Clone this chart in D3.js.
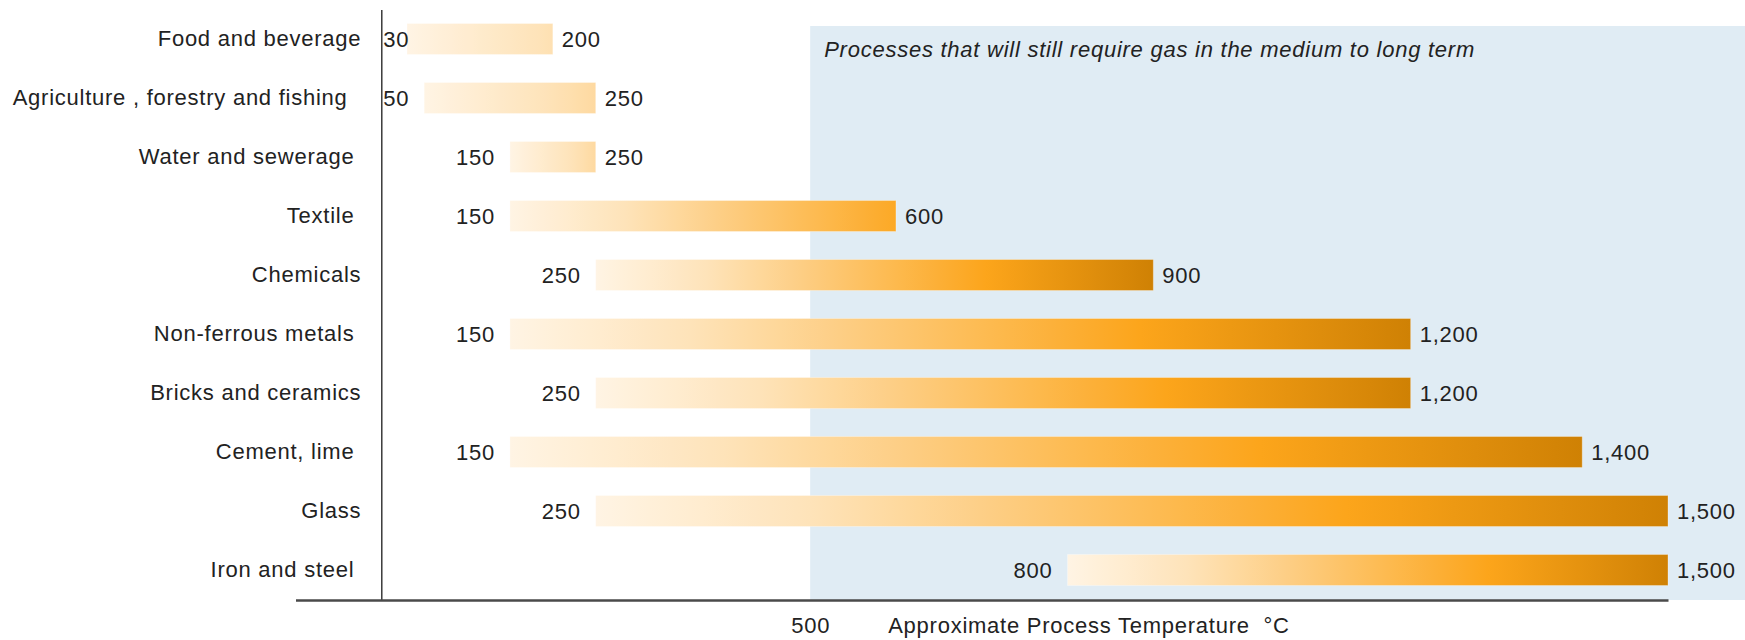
<!DOCTYPE html>
<html>
  <head>
    <meta charset="utf-8">
    <title>Approximate process temperature by industry</title>
    <script src="https://d3js.org/d3.v7.min.js"></script>
    <style>
      body { margin: 0; background: #fff; }
      svg { display: block; font-family: "Liberation Sans", Arial, sans-serif; }
      text { fill: #222; font-size: 22px; letter-spacing: 0.75px; white-space: pre; }
    </style>
  </head>
  <body>
    <svg id="chart" width="1745" height="640"></svg>
    <script>
      // chart data
      const categories = ["Food and beverage", "Agriculture , forestry and fishing  ", "Water and sewerage ", "Textile ",
        "Chemicals", "Non-ferrous metals ", "Bricks and ceramics", "Cement, lime ", "Glass", "Iron and steel "];
      const startTemps = [30, 50, 150, 150, 250, 150, 250, 150, 250, 800];
      const endTemps = [200, 250, 250, 600, 900, 1200, 1200, 1400, 1500, 1500];
      const gasThreshold = 500;
      const tickValues = [500];
      const gasNote = "Processes that will still require gas in the medium to long term";
      const axisTitle = "Approximate Process Temperature  \u00b0C";

      const width = 1745;
      const axisY = 600;
      const fmt = d3.format(",");

      const rows = categories.map((c, i) => ({ name: c, start: startTemps[i], end: endTemps[i] }));

      const svg = d3.select("#chart");

      // scales
      const x = d3.scaleLinear()
        .domain([-100, 1500])
        .range([295.5, 1668]);
      const y = d3.scaleBand()
        .domain(categories)
        .range([9.5, 599.5])
        .paddingInner(0.475)
        .paddingOuter(0.2375);

      // colour ramp: pale cream -> orange -> burnt orange
      const ramp = d3.scaleLinear()
        .domain([0, 0.2, 0.7, 1])
        .range(["#fff4e4", "#fee3b9", "#fca51b", "#cf8104"])
        .clamp(true);

      // shaded zone for processes above the threshold
      svg.append("rect")
        .attr("x", x(gasThreshold))
        .attr("y", 26)
        .attr("width", width - x(gasThreshold))
        .attr("height", axisY - 26)
        .attr("fill", "#e0ecf4");
      svg.append("text")
        .attr("x", x(gasThreshold) + 14)
        .attr("y", 49)
        .attr("dy", "0.35em")
        .style("font-style", "italic")
        .text(gasNote);

      // one gradient per bar, hotter bars reach further along the ramp
      const defs = svg.append("defs");
      rows.forEach((d, i) => {
        let tEnd = Math.min(1, d.end / 900);
        let grad = defs.append("linearGradient")
          .attr("id", "grad-" + i)
          .attr("x1", 0).attr("x2", 1)
          .attr("y1", 0).attr("y2", 0);
        d3.range(0, 1.0001, 0.05).forEach(o => {
          grad.append("stop")
            .attr("offset", o)
            .attr("stop-color", ramp(o * tEnd));
        });
      });

      // draw bars
      svg.append("g")
        .selectAll("rect")
        .data(rows)
        .enter().append("rect")
          .attr("x", d => x(d.start))
          .attr("y", d => y(d.name))
          .attr("width", d => x(d.end) - x(d.start))
          .attr("height", y.bandwidth())
          .attr("fill", (d, i) => "url(#grad-" + i + ")")
          .attr("stroke", "#fff")
          .attr("stroke-opacity", 0.3);

      // start labels, kept clear of the axis line
      svg.append("g")
        .selectAll("text")
        .data(rows)
        .enter().append("text")
          .attr("y", d => y(d.name) + y.bandwidth() / 2)
          .attr("dy", "0.35em")
          .attr("text-anchor", "end")
          .text(d => fmt(d.start))
          .each(function(d) {
            let w = this.getComputedTextLength();
            d3.select(this).attr("x", Math.max(x(d.start) - 15, x(0) + 2 + w));
          });

      // end labels
      svg.append("g")
        .selectAll("text")
        .data(rows)
        .enter().append("text")
          .attr("x", d => x(d.end) + 9)
          .attr("y", d => y(d.name) + y.bandwidth() / 2)
          .attr("dy", "0.35em")
          .text(d => fmt(d.end));

      // category axis
      const yAxis = svg.append("g")
        .attr("transform", "translate(" + x(0) + ",0)")
        .call(d3.axisLeft(y).tickSize(0).tickPadding(20))
        .attr("font-size", null)
        .attr("font-family", null);
      yAxis.select(".domain")
        .attr("stroke", "#3a3a3a")
        .attr("stroke-width", 1.5);

      // temperature axis
      const xAxis = svg.append("g")
        .attr("transform", "translate(0," + axisY + ")")
        .call(d3.axisBottom(x).tickValues(tickValues).tickSize(0).tickPadding(17).tickFormat(fmt))
        .attr("font-size", null)
        .attr("font-family", null);
      xAxis.select(".domain")
        .attr("stroke", "#4a4a4a")
        .attr("stroke-width", 2.5);

      svg.append("text")
        .attr("x", x(gasThreshold) + 78)
        .attr("y", 625)
        .attr("dy", "0.35em")
        .text(axisTitle);
    </script>
  </body>
</html>
